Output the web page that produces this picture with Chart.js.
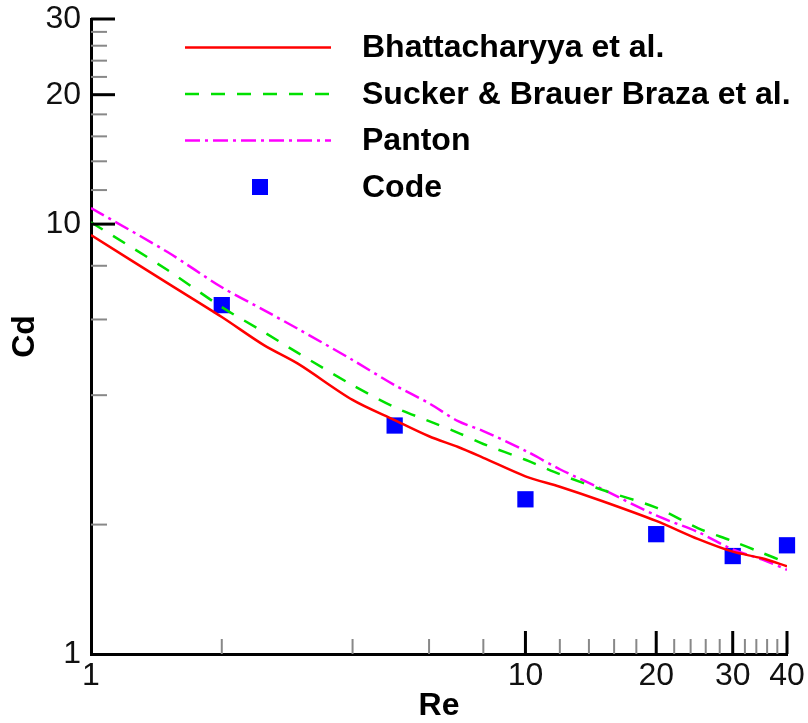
<!DOCTYPE html>
<html>
<head>
<meta charset="utf-8">
<script src="https://cdn.jsdelivr.net/npm/chart.js@4"></script>
<style>
html, body { margin:0; padding:0; background:#fff; }
</style>
</head>
<body>
<canvas id="graficoCd" width="808" height="723"></canvas>
<script>
// Reynolds number samples of the reference curves
const reCurves = [1, 1.5, 2, 2.5, 3, 4, 5, 6, 7, 8, 10, 12, 15, 20, 25, 30, 35, 40];
const cdBhattacharyya = [9.43, 7.29, 6.08, 5.23, 4.73, 3.90, 3.50, 3.21, 3.03, 2.86, 2.59, 2.45, 2.27, 2.04, 1.85, 1.73, 1.67, 1.60];
const cdSuckerBraza = [10.1, 7.82, 6.41, 5.61, 5.01, 4.22, 3.75, 3.48, 3.27, 3.08, 2.83, 2.62, 2.41, 2.19, 1.96, 1.83, 1.72, 1.63];
const cdPanton = [10.9, 8.61, 7.13, 6.31, 5.70, 4.83, 4.22, 3.83, 3.48, 3.30, 2.97, 2.69, 2.42, 2.10, 1.92, 1.75, 1.66, 1.57];

// results of the code
const reCode = [2, 5, 10, 20, 30, 40];
const cdCode = [6.48, 3.40, 2.29, 1.90, 1.69, 1.79];

const seriesNames = ["Bhattacharyya et al.", "Sucker & Brauer Braza et al.", "Panton", "Code"];

// axis ticks
const xTickLabels = [1, 10, 20, 30, 40];
const xMinorTicks = [2, 4, 6, 8, 12, 14, 16, 18, 22, 24, 26, 28, 32, 34, 36, 38];
const yTickLabels = [1, 10, 20, 30];
const yMinorTicks = [2, 4, 6, 8, 12, 14, 16, 18, 22, 24, 26, 28];

const fuente = "'Liberation Sans', Arial, sans-serif";

const puntos = (xs, ys) => xs.map((x, i) => ({x: x, y: ys[i]}));

// ticks pointing into the plot, like the original
const marcasInternas = {
    id: "marcasInternas",
    afterDraw(chart) {
        const {ctx, chartArea, scales} = chart;
        ctx.save();
        ctx.lineCap = "butt";
        const trazo = (x1, y1, x2, y2, color, ancho) => {
            ctx.strokeStyle = color;
            ctx.lineWidth = ancho;
            ctx.beginPath();
            ctx.moveTo(x1, y1);
            ctx.lineTo(x2, y2);
            ctx.stroke();
        };
        xMinorTicks.forEach(v => {
            const px = scales.x.getPixelForValue(v);
            trazo(px, chartArea.bottom, px, chartArea.bottom - 15, "#888", 2);
        });
        xTickLabels.slice(1).forEach(v => {
            const px = scales.x.getPixelForValue(v);
            trazo(px, chartArea.bottom, px, chartArea.bottom - 23, "#000", 3);
        });
        yMinorTicks.forEach(v => {
            const py = scales.y.getPixelForValue(v);
            trazo(chartArea.left, py, chartArea.left + 16, py, "#888", 2);
        });
        yTickLabels.slice(1).forEach(v => {
            const py = scales.y.getPixelForValue(v);
            trazo(chartArea.left, py, chartArea.left + 24, py, "#000", 3);
        });
        ctx.restore();
    }
};

// legend drawn inside the plot area
const leyendaInterna = {
    id: "leyendaInterna",
    afterDraw(chart) {
        const ctx = chart.ctx;
        ctx.save();
        chart.data.datasets.forEach((ds, i) => {
            const y = 47.5 + i * 46.5;
            if (ds.showLine) {
                ctx.strokeStyle = ds.borderColor;
                ctx.lineWidth = ds.borderWidth;
                ctx.setLineDash(ds.borderDash || []);
                ctx.beginPath();
                ctx.moveTo(185, y);
                ctx.lineTo(331, y);
                ctx.stroke();
                ctx.setLineDash([]);
            } else {
                ctx.fillStyle = ds.backgroundColor;
                ctx.fillRect(252, y - 8, 16, 16);
            }
            ctx.fillStyle = "#000";
            ctx.font = "bold 32px " + fuente;
            ctx.textBaseline = "middle";
            ctx.textAlign = "left";
            ctx.fillText(ds.label, 362, y + 1);
        });
        ctx.restore();
    }
};

let miCanvas = document.getElementById("graficoCd").getContext("2d");
var chart = new Chart(miCanvas, {
    type: "scatter",
    data: {
        datasets: [
            {
                label: seriesNames[0],
                data: puntos(reCurves, cdBhattacharyya),
                showLine: true,
                borderColor: "#ff0000",
                backgroundColor: "#ff0000",
                borderWidth: 2.5,
                pointRadius: 0,
                tension: 0.3
            },
            {
                label: seriesNames[1],
                data: puntos(reCurves, cdSuckerBraza),
                showLine: true,
                borderColor: "#00e000",
                backgroundColor: "#00e000",
                borderWidth: 2.5,
                borderDash: [14, 12],
                pointRadius: 0,
                tension: 0.3
            },
            {
                label: seriesNames[2],
                data: puntos(reCurves, cdPanton),
                showLine: true,
                borderColor: "#ff00ff",
                backgroundColor: "#ff00ff",
                borderWidth: 2.5,
                borderDash: [15, 5, 3, 5],
                pointRadius: 0,
                tension: 0.3
            },
            {
                label: seriesNames[3],
                data: puntos(reCode, cdCode),
                showLine: false,
                pointStyle: "rect",
                pointRadius: 11.5,
                backgroundColor: "#0000ff",
                borderColor: "#0000ff",
                borderWidth: 0,
                clip: false
            }
        ]
    },
    options: {
        responsive: false,
        animation: false,
        layout: { padding: { top: 19, right: 21, left: 0, bottom: 0 } },
        plugins: {
            legend: { display: false },
            tooltip: { enabled: false }
        },
        scales: {
            x: {
                type: "logarithmic",
                min: 1,
                max: 40,
                afterFit: s => { s.height = 69; s.paddingLeft = 0; s.paddingRight = 0; },
                afterBuildTicks: s => { s.ticks = xTickLabels.map(v => ({value: v})); },
                ticks: {
                    callback: v => String(v),
                    font: { family: fuente, size: 32 },
                    color: "#111",
                    padding: 3,
                    autoSkip: false,
                    maxRotation: 0,
                    minRotation: 0
                },
                grid: { display: false, drawTicks: false },
                border: { display: true, color: "#000", width: 3 },
                title: {
                    display: true,
                    text: "Re",
                    color: "#000",
                    font: { family: fuente, size: 32, weight: "bold", lineHeight: 1 },
                    padding: { top: 0, bottom: 1 }
                }
            },
            y: {
                type: "logarithmic",
                min: 1,
                max: 30,
                afterFit: s => { s.width = 91; s.paddingTop = 0; s.paddingBottom = 0; },
                afterBuildTicks: s => { s.ticks = yTickLabels.map(v => ({value: v})); },
                ticks: {
                    callback: v => String(v),
                    font: { family: fuente, size: 32 },
                    color: "#111",
                    padding: 10,
                    autoSkip: false
                },
                grid: { display: false, drawTicks: false },
                border: { display: true, color: "#000", width: 3 },
                title: {
                    display: true,
                    text: "Cd",
                    color: "#000",
                    font: { family: fuente, size: 32, weight: "bold", lineHeight: 1 },
                    padding: { top: 9, bottom: 0 }
                }
            }
        }
    },
    plugins: [marcasInternas, leyendaInterna]
});
</script>
</body>
</html>
